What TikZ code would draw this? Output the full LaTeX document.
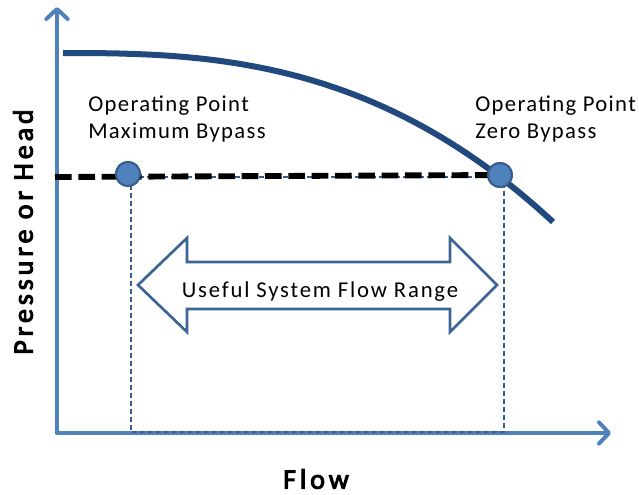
\documentclass[tikz,border=0pt]{standalone}
\usepackage{fontspec}
\setmainfont{Carlito}
\newfontfamily\lblfont[LetterSpace=6]{Carlito}
\newfontfamily\arrfont[LetterSpace=8]{Carlito}
\newfontfamily\axfont[LetterSpace=14,FakeBold=3.5]{Carlito}
\usetikzlibrary{arrows.meta}
\definecolor{axisblue}{HTML}{4F81BD}
\definecolor{curveblue}{HTML}{22497D}
\definecolor{darkblue}{HTML}{385D8A}
\definecolor{arrowblue}{HTML}{3C6494}
\tikzset{
  axisline/.style={draw=axisblue,line width=3pt,line cap=round,
    -{Straight Barb[length=7.5pt,width=16pt,line width=3pt,round]}},
  thindash/.style={draw=darkblue,line width=1.3pt,dash pattern=on 3.5pt off 2.5pt},
  opdash/.style={draw=black,line width=4.4pt,dash pattern=on 12.5pt off 5pt},
  pumpcurve/.style={draw=curveblue,line width=4.5pt},
  oppoint/.style={circle,fill=axisblue,draw=darkblue,line width=1.5pt,minimum size=18pt,inner sep=0pt},
  lbl/.style={font=\lblfont\fontsize{17pt}{20.25pt}\selectfont,align=left,inner sep=0pt,anchor=north west},
  axlbl/.style={font=\axfont\fontsize{21pt}{24pt}\selectfont,inner sep=0pt},
  rangearrow/.style={draw=arrowblue,line width=2pt,fill=white,line join=miter}
}
\begin{document}
\begin{tikzpicture}[x=0.75pt,y=-0.75pt]
\useasboundingbox (0,0) rectangle (639,494);
% axes
\coordinate (O) at (57,433);
\coordinate (ytip) at (57,7);
\coordinate (xtip) at (611,433);
\draw[axisline] (O) -- (ytip);
\draw[axisline] (O) -- (xtip);
% operating points
\node[oppoint] (c1) at (128,174) {};
\node[oppoint] (c2) at (500,175) {};
\coordinate (b1) at (131,432);
\coordinate (b2) at (504,432);
\coordinate (t1) at (131,177);
\coordinate (t2) at (504,177);
\coordinate (dl) at (55,177);
% thin dashed range box
\draw[thindash] (t1) -- (t2);
\draw[thindash] (t1) -- (b1) -- (b2) -- (t2);
% thick dashed operating line
\draw[opdash] (dl) -- (c2.center);
% pump curve
\draw[pumpcurve] plot[domain=63:553,samples=80,smooth]
  (\x,{53+169*((\x-63)/490)^2.69});
\node[oppoint] at (c1) {};
\node[oppoint] at (c2) {};
% labels
\node[lbl] (l1) at (88,96) {Operating Point\\Maximum Bypass};
\node[lbl] (l2) at (475,96) {Operating Point\\Zero Bypass};
% double arrow
\draw[rangearrow] (138,285) -- (187,238) -- (187,262) -- (450,262) -- (450,238)
  -- (497,285) -- (450,332) -- (450,309) -- (187,309) -- (187,332) -- cycle;
\node[font=\arrfont\fontsize{17pt}{19pt}\selectfont,inner sep=0pt,anchor=base] (rng) at (320,297) {Useful System Flow Range};
% axis titles
\node[axlbl,rotate=90] (yl) at (23,232) {Pressure or Head};
\node[axlbl] (xl) at (316,479) {Flow};
\end{tikzpicture}
\end{document}
